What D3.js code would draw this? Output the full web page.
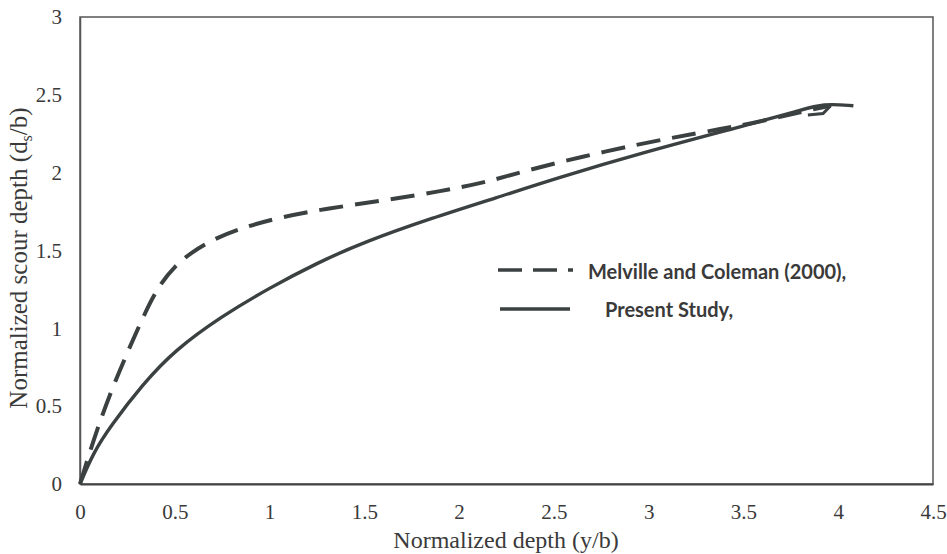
<!DOCTYPE html>
<html lang="en">
<head>
  <meta charset="UTF-8">
  <title>Scour depth</title>
  <script src="https://cdn.jsdelivr.net/npm/d3@7"></script>
  <style>
  body { margin: 0; background: #fff; }
  .tick text { font-family: "Liberation Serif", "DejaVu Serif", serif; font-size: 21px; fill: #3a3a3a; }
  .axis-title { font-family: "Liberation Serif", serif; fill: #3a3a3a; }
  .legend text { font-family: Lato, "Open Sans", sans-serif; font-weight: bold; font-size: 20px; fill: #3a3a3a; }
  </style>
</head>
<body>
<svg id="chart" width="947" height="554"></svg>
<script>
// Melville and Coleman (2000) - dashed
const melvilleX = [0, 0.07, 0.158, 0.255, 0.35, 0.42, 0.5, 0.59, 0.7, 0.84, 1.04, 1.3, 1.6, 1.9, 2.15, 2.4, 2.78, 3.1, 3.38, 3.6, 3.8, 3.96];
const melvilleY = [0, 0.28, 0.58, 0.86, 1.12, 1.28, 1.40, 1.49, 1.57, 1.64, 1.71, 1.77, 1.82, 1.88, 1.94, 2.03, 2.14, 2.22, 2.28, 2.33, 2.39, 2.43];
// little hook at the end of the dashed curve
const melvilleTailX = [3.96, 3.92, 3.84];
const melvilleTailY = [2.43, 2.38, 2.37];
// Present study - solid
const presentX = [0, 0.07, 0.16, 0.33, 0.5, 0.75, 1.0, 1.25, 1.5, 1.86, 2.2, 2.5, 3.0, 3.5, 3.8, 3.92, 4.08];
const presentY = [0, 0.20, 0.37, 0.64, 0.86, 1.08, 1.26, 1.42, 1.555, 1.71, 1.84, 1.96, 2.14, 2.30, 2.40, 2.445, 2.43];

const xTicks = [0, 0.5, 1, 1.5, 2, 2.5, 3, 3.5, 4, 4.5];
const yTicks = [0, 0.5, 1, 1.5, 2, 2.5, 3];
const legendLabels = ['Melville and Coleman (2000),', 'Present Study,'];

const lineColor = '#3b4040';
const svg = d3.select('#chart');
const x = d3.scaleLinear().domain([0, 4.5]).range([80, 933]);
const y = d3.scaleLinear().domain([0, 3]).range([484, 17]);
const fmt = d3.format('~g');

// frame
svg.append('rect')
  .attr('x', x(0)).attr('y', y(3))
  .attr('width', x(4.5) - x(0)).attr('height', y(0) - y(3))
  .attr('fill', 'none').attr('stroke', '#555').attr('stroke-width', 1.5);

const xAxis = svg.append('g')
  .attr('transform', `translate(0,${y(0)})`)
  .call(d3.axisBottom(x).tickValues(xTicks).tickSize(0).tickPadding(20).tickFormat(fmt));
xAxis.select('.domain').attr('stroke', '#444').attr('stroke-width', 2);

const yAxis = svg.append('g')
  .attr('transform', `translate(${x(0)},0)`)
  .call(d3.axisLeft(y).tickValues(yTicks).tickSize(0).tickPadding(18).tickFormat(fmt));
yAxis.select('.domain').attr('stroke', '#555').attr('stroke-width', 1.5);

svg.append('text').attr('class', 'axis-title')
  .attr('x', 506).attr('y', 548).attr('text-anchor', 'middle')
  .attr('font-size', 24)
  .text('Normalized depth (y/b)');

const yt = svg.append('text').attr('class', 'axis-title')
  .attr('transform', 'translate(27,258) rotate(-90)')
  .attr('text-anchor', 'middle')
  .attr('font-size', 25);
yt.append('tspan').text('Normalized scour depth (d');
yt.append('tspan').attr('font-size', 16).attr('dy', 5).text('s');
yt.append('tspan').attr('dy', -5).text('/b)');

const line = d3.line()
  .x(d => x(d[0])).y(d => y(d[1]))
  .curve(d3.curveBasis);

svg.append('path')
  .datum(d3.zip(melvilleX, melvilleY))
  .attr('d', line)
  .attr('fill', 'none').attr('stroke', lineColor)
  .attr('stroke-width', 4).attr('stroke-dasharray', '24,12');

svg.append('path')
  .datum(d3.zip(melvilleTailX, melvilleTailY))
  .attr('d', d3.line().x(d => x(d[0])).y(d => y(d[1])))
  .attr('fill', 'none').attr('stroke', lineColor)
  .attr('stroke-width', 3);

svg.append('path')
  .datum(d3.zip(presentX, presentY))
  .attr('d', line)
  .attr('fill', 'none').attr('stroke', lineColor)
  .attr('stroke-width', 3.4);

// legend
const legend = svg.append('g').attr('class', 'legend');
legend.append('line')
  .attr('x1', 498).attr('x2', 573).attr('y1', 270).attr('y2', 270)
  .attr('stroke', lineColor).attr('stroke-width', 3.5).attr('stroke-dasharray', '24,11');
legend.append('line')
  .attr('x1', 500).attr('x2', 570).attr('y1', 309).attr('y2', 309)
  .attr('stroke', lineColor).attr('stroke-width', 3.5);
legend.append('text').attr('x', 588).attr('y', 279).text(legendLabels[0]);
legend.append('text').attr('x', 605).attr('y', 317).text(legendLabels[1]);
</script>
</body>
</html>
